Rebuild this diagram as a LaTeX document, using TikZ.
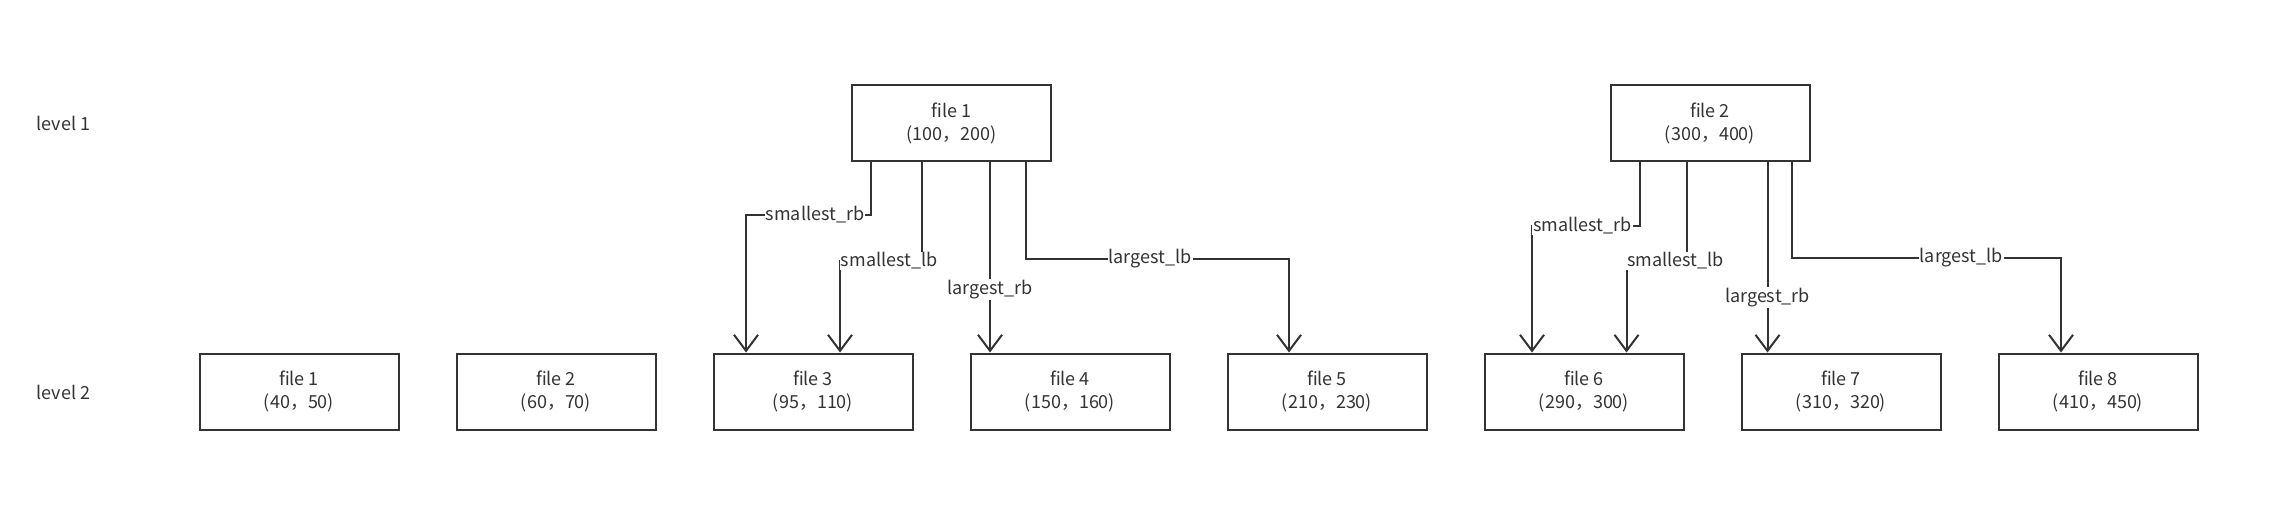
\documentclass[tikz,border=0pt]{standalone}
\usepackage{fontspec}
\setmainfont{Noto Sans CJK SC}
\usetikzlibrary{arrows.meta,calc}
\definecolor{ink}{HTML}{333333}

\begin{document}
\begin{tikzpicture}[x=1pt,y=-1pt,
    file/.style={draw=ink,line width=2pt,minimum width=199pt,minimum height=76pt,align=center,text=ink,font=\fontsize{18}{23}\selectfont},
    link/.style={draw=ink,line width=2pt,-{Straight Barb[length=16pt,width=24pt]}},
    lbl/.style={fill=white,text=ink,inner sep=1pt,font=\fontsize{18}{22}\selectfont},
    lvl/.style={text=ink,anchor=west,font=\fontsize{18}{22}\selectfont}]
  \useasboundingbox (0,0) rectangle (2284,522);

  % levels
  \node[lvl] (lv1) at (33,123) {level 1};
  \node[lvl] (lv2) at (33,392) {level 2};

  % level 1 files
  \node[file] (top1) at (951.5,123) {file 1\\(100，200)};
  \node[file] (top2) at (1710,123) {file 2\\(300，400)};

  % level 2 files
  \foreach \i/\lo/\hi in {1/40/50,2/60/70,3/95/110,4/150/160,5/210/230,6/290/300,7/310/320,8/410/450}
    \node[file] (bot\i) at ({299+257*(\i-1)},391.5) {file \i\\(\lo，\hi)};

  % links of file 1
  \draw[link] ($(top1.south west)+(20,0)$) -- ++(0,53) -| node[lbl,pos=0.224] (r1) {smallest\_rb} ($(bot3.north west)+(33.5,0)$);
  \draw[link] ($(top1.south west)+(71,0)$) -- ++(0,99) -| node[lbl,pos=0.2] (l1) {smallest\_lb} ($(bot3.north west)+(127.5,0)$);
  \coordinate (m1) at ($(top1.south west)+(139,0)$);
  \draw[link] (m1) -- node[lbl,pos=0.67] (lr1) {largest\_rb} (m1 |- bot4.north);
  \draw[link] ($(top1.south west)+(175,0)$) -- ++(0,97) -| node[lbl,pos=0.236] (ll1) {largest\_lb} ($(bot5.north west)+(62.5,0)$);

  % links of file 2
  \draw[link] ($(top2.south west)+(30.5,0)$) -- ++(0,64) -| node[lbl,pos=0.266] (r2) {smallest\_rb} ($(bot6.north west)+(48.5,0)$);
  \draw[link] ($(top2.south west)+(77,0)$) -- ++(0,99) -| node[lbl,pos=0.09] (l2) {smallest\_lb} ($(bot6.north west)+(143,0)$);
  \coordinate (m2) at ($(top2.south west)+(158,0)$);
  \draw[link] (m2) -- node[lbl,pos=0.71] (lr2) {largest\_rb} (m2 |- bot7.north);
  \draw[link] ($(top2.south west)+(182,0)$) -- ++(0,96) -| node[lbl,pos=0.315] (ll2) {largest\_lb} ($(bot8.north west)+(63.5,0)$);
\end{tikzpicture}
\end{document}
